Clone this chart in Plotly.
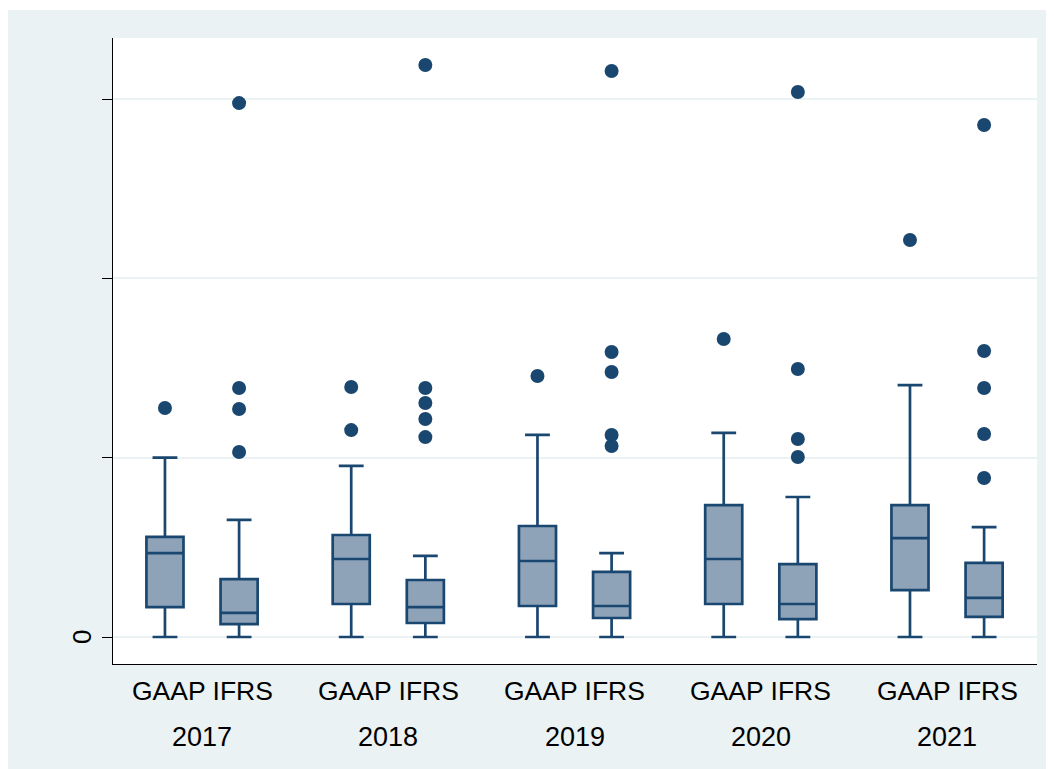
import plotly.graph_objects as go

# ---- data ----
years = ["2017", "2018", "2019", "2020", "2021"]
group_labels = ["GAAP IFRS"] * 5

gaap_q1 = [0.167, 0.184, 0.173, 0.184, 0.262]
gaap_median = [0.468, 0.435, 0.424, 0.435, 0.552]
gaap_q3 = [0.558, 0.569, 0.619, 0.736, 0.736]
gaap_low = [0.0, 0.0, 0.0, 0.0, 0.0]
gaap_high = [1.0, 0.954, 1.127, 1.138, 1.405]
gaap_outliers = [[1.277], [1.394, 1.154], [1.456], [1.662], [2.214]]

ifrs_q1 = [0.072, 0.078, 0.106, 0.100, 0.112]
ifrs_median = [0.134, 0.167, 0.173, 0.184, 0.218]
ifrs_q3 = [0.323, 0.318, 0.363, 0.407, 0.413]
ifrs_low = [0.0, 0.0, 0.0, 0.0, 0.0]
ifrs_high = [0.653, 0.452, 0.468, 0.781, 0.613]
ifrs_outliers = [
    [2.978, 1.389, 1.272, 1.032],
    [3.190, 1.389, 1.305, 1.216, 1.115],
    [3.157, 1.590, 1.478, 1.127, 1.065],
    [3.040, 1.495, 1.104, 1.004],
    [2.856, 1.595, 1.389, 1.132, 0.887],
]

y_tick_vals = [0, 1, 2, 3]
y_tick_text = ["0", "", "", ""]

# ---- style / layout ----
NAVY = "#1A476F"
FILL = "#8EA3B8"
BG = "#EAF2F3"
OFF = 0.199
W, H = 1046, 761          # page body margin of 8px puts the figure at (8, 8)
L, R, T, B = 105, 17, 30, 105
PW, PH = W - L - R, H - T - B
FONT = "Liberation Sans, Arial"

gaap_x = [i - OFF for i in range(len(years))]
ifrs_x = [i + OFF for i in range(len(years))]

fig = go.Figure()

for xs, q1, med, q3, lo, hi in [
    (gaap_x, gaap_q1, gaap_median, gaap_q3, gaap_low, gaap_high),
    (ifrs_x, ifrs_q1, ifrs_median, ifrs_q3, ifrs_low, ifrs_high),
]:
    fig.add_trace(go.Box(
        x=xs, q1=q1, median=med, q3=q3, lowerfence=lo, upperfence=hi,
        width=0.199, whiskerwidth=0.67, boxpoints=False,
        fillcolor=FILL, line=dict(color=NAVY, width=2.7),
        showlegend=False,
    ))

for xs, outs in [(gaap_x, gaap_outliers), (ifrs_x, ifrs_outliers)]:
    px, py = [], []
    for x, vals in zip(xs, outs):
        for v in vals:
            px.append(x)
            py.append(v)
    fig.add_trace(go.Scatter(
        x=px, y=py, mode="markers",
        marker=dict(color=NAVY, size=14, line=dict(width=0)),
        showlegend=False,
    ))

annotations = []
for i, (gl, yr) in enumerate(zip(group_labels, years)):
    annotations.append(dict(x=i, y=-27 / PH, xref="x", yref="paper", text=gl,
                            showarrow=False, yanchor="middle",
                            font=dict(size=26.5, color="black", family=FONT)))
    annotations.append(dict(x=i, y=-73 / PH, xref="x", yref="paper", text=yr,
                            showarrow=False, yanchor="middle",
                            font=dict(size=27, color="black", family=FONT)))
for v, t in zip(y_tick_vals, y_tick_text):
    if t:
        annotations.append(dict(x=-31 / PW, y=v, xref="paper", yref="y", text=t,
                                showarrow=False, textangle=-90, xanchor="center", yanchor="middle",
                                font=dict(size=26, color="black", family=FONT)))

shapes = [
    # thin white strip at the very top
    dict(type="rect", xref="paper", yref="paper", x0=-L / PW, x1=(W - L) / PW,
         y0=1 + (T - 2) / PH, y1=1 + T / PH + 0.01, fillcolor="white", line=dict(width=0), layer="below"),
]

fig.update_layout(
    width=W, height=H,
    margin=dict(l=L, r=R, t=T, b=B, pad=0),
    paper_bgcolor=BG, plot_bgcolor="white",
    boxmode="overlay",
    annotations=annotations, shapes=shapes,
    font=dict(family=FONT, color="black"),
    xaxis=dict(range=[-0.478, 4.483], showgrid=False, zeroline=False,
               showline=True, linecolor="black", linewidth=1.2,
               ticks="", showticklabels=False, fixedrange=True),
    yaxis=dict(range=[-0.1506, 3.341], tickvals=y_tick_vals, ticktext=y_tick_text,
               showticklabels=False, showgrid=True, gridcolor=BG, gridwidth=2,
               zeroline=False, showline=True, linecolor="black", linewidth=1.2,
               ticks="outside", ticklen=10, tickwidth=1.2, tickcolor="black"),
)

fig.write_html("out.html")
